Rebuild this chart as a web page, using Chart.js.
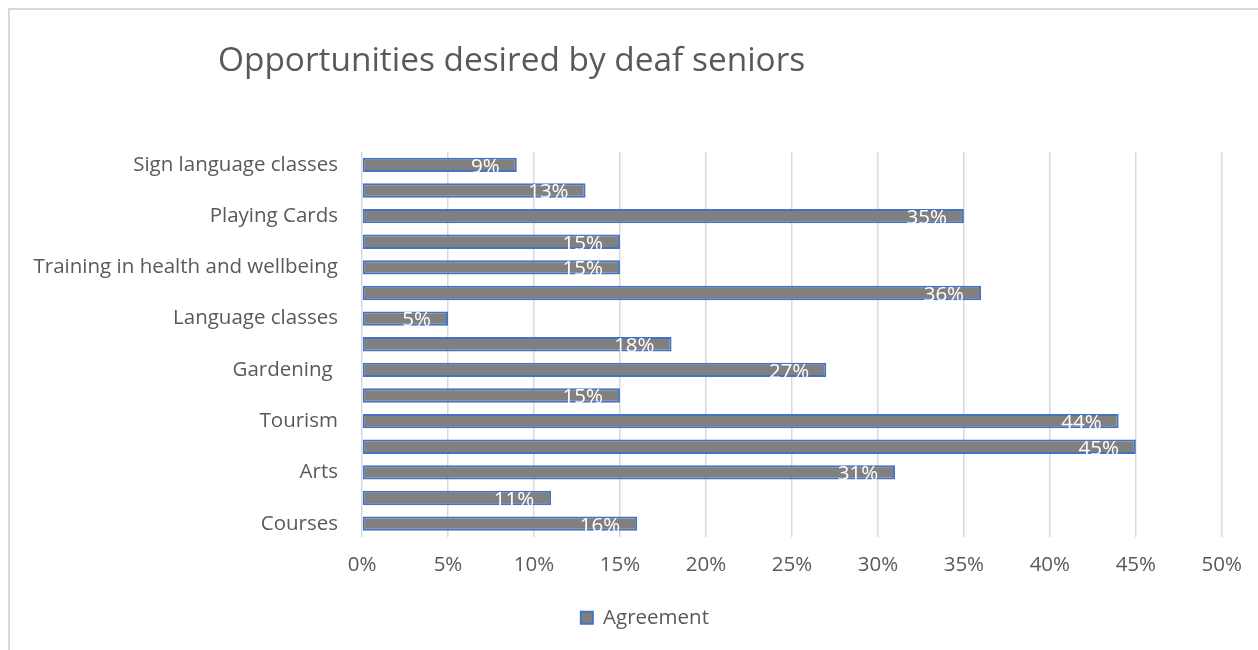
<!DOCTYPE html>
<html>
<head>
<meta charset="utf-8">
<title>Opportunities desired by deaf seniors</title>
<script src="https://cdn.jsdelivr.net/npm/chart.js@4/dist/chart.umd.min.js"></script>
<style>
  html, body {
    margin: 0;
    padding: 0;
    width: 1258px;
    height: 650px;
    overflow: hidden;
    background: #ffffff;
  }
  .frame {
    position: absolute;
    left: 8px;
    top: 8px;
    width: 1300px;
    height: 700px;
    border: 2px solid #d9d9d9;
  }
  .chart-box {
    position: absolute;
    left: 0;
    top: 0;
    width: 1258px;
    height: 650px;
  }
</style>
</head>
<body>
<div class="frame"></div>
<div class="chart-box"><canvas id="oppChart" width="1258" height="650"></canvas></div>
<script>
const chartTitle = 'Opportunities desired by deaf seniors';
const seriesName = 'Agreement';

// top to bottom; the unlabeled rows have no visible axis text
const categories = [
  'Sign language classes',
  '',
  'Playing Cards',
  '',
  'Training in health and wellbeing',
  '',
  'Language classes',
  '',
  'Gardening ',
  '',
  'Tourism',
  '',
  'Arts',
  '',
  'Courses'
];
const agreement = [9, 13, 35, 15, 15, 36, 5, 18, 27, 15, 44, 45, 31, 11, 16];
const xTicks = [0, 5, 10, 15, 20, 25, 30, 35, 40, 45, 50];

const textGray = '#595959';
const fontFamily = '"Open Sans", "Liberation Sans", sans-serif';
const textSize = 20.5;

// title sits left of the plot, not centred on the canvas
const titlePlugin = {
  id: 'sideTitle',
  afterDraw(chart) {
    const ctx = chart.ctx;
    ctx.save();
    ctx.font = '33.4px ' + fontFamily;
    ctx.fillStyle = textGray;
    ctx.textAlign = 'left';
    ctx.textBaseline = 'middle';
    ctx.fillText(chartTitle, 218, 61);
    ctx.restore();
  }
};

// legend is centred a bit right of the canvas middle
const legendShift = {
  id: 'legendShift',
  afterLayout(chart) {
    const lg = chart.legend;
    lg.left = 68;
    lg.right = chart.chartArea.right;
  }
};

// white value labels near the end of each bar
const valueLabels = {
  id: 'valueLabels',
  afterDatasetsDraw(chart) {
    const ctx = chart.ctx;
    const meta = chart.getDatasetMeta(0);
    ctx.save();
    ctx.font = textSize + 'px ' + fontFamily;
    ctx.fillStyle = '#ffffff';
    ctx.textAlign = 'right';
    ctx.textBaseline = 'middle';
    meta.data.forEach((bar, i) => {
      ctx.fillText(agreement[i] + '%', bar.x - 17, bar.y + 2);
    });
    ctx.restore();
  }
};

let oppChart;
document.addEventListener('DOMContentLoaded', function() {
  oppChart = new Chart(document.getElementById('oppChart'), {
    type: 'bar',
    data: {
      labels: categories,
      datasets: [
        {
          label: seriesName,
          data: agreement,
          backgroundColor: '#808080',
          borderColor: '#4472c4',
          borderWidth: 2,
          borderSkipped: false,
          barPercentage: 0.56,
          categoryPercentage: 1
        }
      ]
    },
    options: {
      indexAxis: 'y',
      responsive: false,
      animation: false,
      devicePixelRatio: 1,
      layout: {
        padding: { left: 0, right: 36, top: 152, bottom: 12 }
      },
      plugins: {
        title: { display: false },
        tooltip: { enabled: false },
        legend: {
          position: 'bottom',
          labels: {
            color: textGray,
            boxWidth: 12,
            boxHeight: 12,
            padding: 10,
            font: { family: fontFamily, size: textSize }
          }
        }
      },
      scales: {
        x: {
          min: 0,
          max: 50,
          afterFit(scale) { scale.height = 61; },
          afterBuildTicks(scale) {
            scale.ticks = xTicks.map(v => ({ value: v }));
          },
          ticks: {
            color: textGray,
            padding: 16,
            font: { family: fontFamily, size: textSize },
            callback: v => v + '%'
          },
          grid: {
            color: '#d9d9d9',
            lineWidth: 1.5,
            drawTicks: false
          },
          border: { display: false }
        },
        y: {
          afterFit(scale) { scale.width = 362; },
          ticks: {
            color: textGray,
            padding: 24,
            autoSkip: false,
            font: { family: fontFamily, size: textSize }
          },
          grid: { display: false, drawTicks: false },
          border: { display: false }
        }
      }
    },
    plugins: [titlePlugin, legendShift, valueLabels]
  });
});
</script>
</body>
</html>
